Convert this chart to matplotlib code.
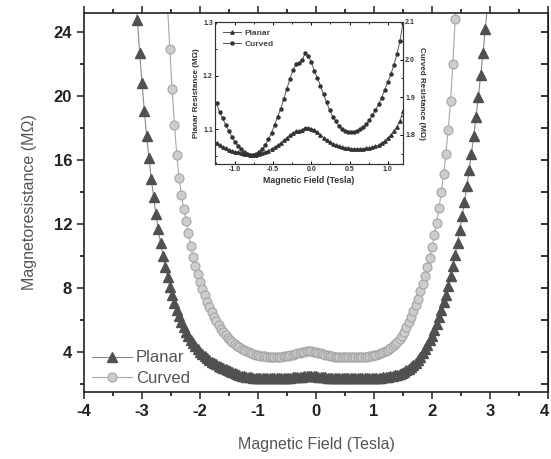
import numpy as np
import matplotlib
matplotlib.use("Agg")
from matplotlib import pyplot as plt
from matplotlib import transforms
from matplotlib.ticker import MultipleLocator, FormatStrFormatter

plt.rcParams["font.family"] = ["Liberation Sans", "DejaVu Sans"]
plt.rcParams["axes.unicode_minus"] = False

# main plot: resistance vs field, field sweep in 0.04 T steps
planar_r = [
    27.05, 24.76, 22.68, 20.79, 19.08, 17.52, 16.12, 14.84, 13.68, 12.64,
    11.68, 10.82, 10.04, 9.33, 8.69, 8.11, 7.58, 7.10, 6.67, 6.27,
    5.92, 5.59, 5.30, 5.03, 4.79, 4.57, 4.38, 4.20, 4.03, 3.88,
    3.75, 3.63, 3.52, 3.42, 3.33, 3.25, 3.17, 3.10, 3.03, 2.96,
    2.89, 2.82, 2.76, 2.70, 2.64, 2.59, 2.55, 2.51, 2.48, 2.46,
    2.44, 2.43, 2.42, 2.41, 2.40, 2.40, 2.40, 2.40, 2.40, 2.40,
    2.40, 2.40, 2.40, 2.40, 2.41, 2.41, 2.42, 2.43, 2.44, 2.45,
    2.46, 2.48, 2.49, 2.50, 2.51, 2.52, 2.52, 2.51, 2.50, 2.48,
    2.47, 2.45, 2.44, 2.43, 2.42, 2.41, 2.41, 2.40, 2.40, 2.40,
    2.40, 2.40, 2.40, 2.40, 2.40, 2.40, 2.40, 2.40, 2.40, 2.40,
    2.40, 2.40, 2.40, 2.40, 2.41, 2.42, 2.43, 2.45, 2.47, 2.49,
    2.52, 2.55, 2.58, 2.62, 2.67, 2.73, 2.80, 2.88, 2.97, 3.07,
    3.20, 3.36, 3.52, 3.70, 3.95, 4.20, 4.47, 4.75, 5.05, 5.40,
    5.78, 6.20, 6.65, 7.12, 7.60, 8.15, 8.75, 9.40, 10.10, 10.85,
    11.65, 12.50, 13.40, 14.35, 15.35, 16.40, 17.50, 18.70, 19.95, 21.30,
    22.70, 24.20, 25.80,
]
planar_field = np.linspace(-3.12, 2.96, len(planar_r))

curved_r = [
    28.0, 25.6, 22.9, 20.4, 18.2, 16.3, 14.9, 13.8, 12.95, 12.2,
    11.45, 10.65, 9.95, 9.4, 8.9, 8.42, 7.97, 7.55, 7.17, 6.82,
    6.5, 6.2, 5.93, 5.68, 5.46, 5.26, 5.08, 4.92, 4.78, 4.65,
    4.53, 4.42, 4.32, 4.23, 4.15, 4.08, 4.02, 3.96, 3.91, 3.87,
    3.83, 3.80, 3.77, 3.75, 3.73, 3.72, 3.71, 3.71, 3.71, 3.72,
    3.73, 3.75, 3.77, 3.80, 3.83, 3.86, 3.90, 3.94, 3.98, 4.02,
    4.05, 4.07, 4.08, 4.07, 4.05, 4.02, 3.98, 3.94, 3.89, 3.85,
    3.81, 3.78, 3.75, 3.73, 3.71, 3.70, 3.69, 3.69, 3.69, 3.69,
    3.70, 3.70, 3.70, 3.70, 3.71, 3.71, 3.72, 3.74, 3.76, 3.78,
    3.81, 3.85, 3.90, 3.96, 4.02, 4.09, 4.17, 4.26, 4.37, 4.50,
    4.66, 4.84, 5.05, 5.30, 5.57, 5.88, 6.22, 6.58, 6.95, 7.35,
    7.80, 8.25, 8.75, 9.30, 9.90, 10.55, 11.30, 12.10, 13.00, 14.00,
    15.10, 16.40, 17.90, 19.70, 22.00, 24.80, 28.00,
]
curved_field = np.linspace(-2.60, 2.44, len(curved_r))

# inset: low field region
inset_planar = [
    1.075, 1.071, 1.067, 1.064, 1.062, 1.060, 1.058, 1.057, 1.055, 1.054,
    1.053, 1.052, 1.052, 1.052, 1.053, 1.055, 1.057, 1.060, 1.063, 1.066,
    1.070, 1.074, 1.079, 1.084, 1.089, 1.093, 1.096, 1.097, 1.099, 1.103,
    1.103, 1.101, 1.098, 1.094, 1.089, 1.084, 1.079, 1.076, 1.073, 1.070,
    1.068, 1.066, 1.065, 1.064, 1.063, 1.063, 1.063, 1.063, 1.063, 1.064,
    1.065, 1.066, 1.068, 1.070, 1.074, 1.078, 1.083, 1.089, 1.096, 1.104,
    1.115, 1.133,
]
inset_curved = [
    1.884, 1.861, 1.844, 1.827, 1.811, 1.796, 1.782, 1.770, 1.762, 1.755,
    1.750, 1.748, 1.747, 1.750, 1.755, 1.763, 1.774, 1.789, 1.806, 1.827,
    1.849, 1.870, 1.896, 1.923, 1.948, 1.972, 1.988, 1.991, 1.999, 2.017,
    2.009, 1.995, 1.970, 1.951, 1.931, 1.908, 1.887, 1.866, 1.849, 1.836,
    1.824, 1.816, 1.811, 1.809, 1.808, 1.809, 1.811, 1.815, 1.820, 1.828,
    1.840, 1.852, 1.866, 1.881, 1.899, 1.920, 1.940, 1.961, 1.985, 2.014,
    2.050, 2.097,
]
inset_field = np.linspace(-1.24, 1.20, len(inset_planar))

x_ticks = [-4, -3, -2, -1, 0, 1, 2, 3, 4]
y_ticks = [4, 8, 12, 16, 20, 24]


W, H = 551, 459
fig = plt.figure(figsize=(W / 100, H / 100), dpi=100)
ax = fig.add_axes([84 / W, 1 - 391.7 / H, 464 / W, 378.4 / H])

ax.plot(planar_field, planar_r, color="#8a8a8a", lw=0.8, marker="^", ms=7,
        mfc="#505050", mec="#505050", label="Planar")
ax.plot(curved_field, curved_r, color="#a8a8a8", lw=0.8, marker="o", ms=6.5,
        mfc="#cdcdcd", mec="#a5a5a5", mew=0.8, label="Curved")

ax.set_xlim(-4, 4)
ax.set_ylim(1.55, 25.15)
ax.set_xticks(x_ticks)
ax.set_yticks(y_ticks)
ax.xaxis.set_minor_locator(MultipleLocator(0.5))
ax.yaxis.set_minor_locator(MultipleLocator(2))
ax.tick_params(axis="x", which="both", direction="out", top=True, width=1.1)
ax.tick_params(axis="y", which="both", direction="out", width=1.1)
ax.tick_params(which="major", length=5, labelsize=12, colors="#222222")
ax.tick_params(which="minor", length=3)
for lab in ax.get_xticklabels() + ax.get_yticklabels():
    lab.set_fontweight("bold")
# the last label sits right on the figure edge, nudge it in a little
last = ax.get_xticklabels()[-1]
last.set_transform(last.get_transform()
                   + transforms.ScaledTranslation(-0.04, 0, fig.dpi_scale_trans))
for s in ax.spines.values():
    s.set_linewidth(1.2)
    s.set_color("#222222")

ax_r = ax.secondary_yaxis("right")
ax_r.yaxis.set_major_locator(MultipleLocator(2))
ax_r.tick_params(direction="in", length=5, width=1.1, labelright=False)

ax.set_xlabel("Magnetic Field (Tesla)", fontsize=11.5, color="#555555", labelpad=13)
ax.set_ylabel("Magnetoresistance (M\u03a9)", fontsize=11.5, color="#555555", labelpad=12)

ax.legend(loc="lower left", bbox_to_anchor=(-0.005, -0.012), frameon=False,
          fontsize=12, labelcolor="#555555", handlelength=2.4, handletextpad=0.25,
          labelspacing=0.35, borderaxespad=0.2)

# inset
ax_in = fig.add_axes([215 / W, 1 - 164 / H, 188 / W, 142 / H])
ax_in2 = ax_in.twinx()
l1, = ax_in.plot(inset_field, inset_planar, color="#555555", lw=0.7, marker="^",
                 ms=2.4, mfc="#333333", mec="#333333")
l2, = ax_in2.plot(inset_field, inset_curved, color="#555555", lw=0.7, marker="o",
                  ms=2.2, mfc="#333333", mec="#333333")
ax_in.set_xlim(-1.26, 1.2)
ax_in.set_ylim(1.035, 1.3)
ax_in2.set_ylim(1.723, 2.1)
ax_in.xaxis.set_major_locator(MultipleLocator(0.5))
ax_in.xaxis.set_minor_locator(MultipleLocator(0.25))
ax_in.xaxis.set_major_formatter(FormatStrFormatter("%.1f"))
ax_in.yaxis.set_major_locator(MultipleLocator(0.1))
ax_in.yaxis.set_minor_locator(MultipleLocator(0.05))
ax_in.yaxis.set_major_formatter(FormatStrFormatter("%.1f"))
ax_in2.yaxis.set_major_locator(MultipleLocator(0.1))
ax_in2.yaxis.set_minor_locator(MultipleLocator(0.05))
ax_in2.yaxis.set_major_formatter(FormatStrFormatter("%.1f"))
ax_in.tick_params(axis="x", which="both", direction="in", top=True)
ax_in.tick_params(axis="y", which="both", direction="in")
ax_in2.tick_params(axis="y", which="both", direction="in")
for a in (ax_in, ax_in2):
    a.tick_params(which="major", length=2.5, width=0.7, labelsize=5, pad=1.5)
    a.tick_params(which="minor", length=1.5, width=0.6)
    for lab in a.get_xticklabels() + a.get_yticklabels():
        lab.set_fontweight("bold")
        lab.set_color("#333333")
    for s in a.spines.values():
        s.set_linewidth(0.8)
        s.set_color("#333333")
ax_in.set_xlabel("Magnetic Field (Tesla)", fontsize=6.3, fontweight="bold",
                 color="#333333", labelpad=2)
ax_in.set_ylabel("Planar Resistance (M\u03a9)", fontsize=5.8, fontweight="bold",
                 color="#333333", labelpad=2)
ax_in2.set_ylabel("Curved Resistance (M\u03a9)", fontsize=5.8, fontweight="bold",
                  color="#333333", rotation=270, labelpad=7)
ax_in.legend([l1, l2], ["Planar", "Curved"], loc="upper left", frameon=False,
             prop={"size": 6, "weight": "bold"}, labelcolor="#444444",
             handlelength=2.2, handletextpad=0.4, labelspacing=0.3,
             borderaxespad=0.5)

fig.savefig("out.png", dpi=100)
